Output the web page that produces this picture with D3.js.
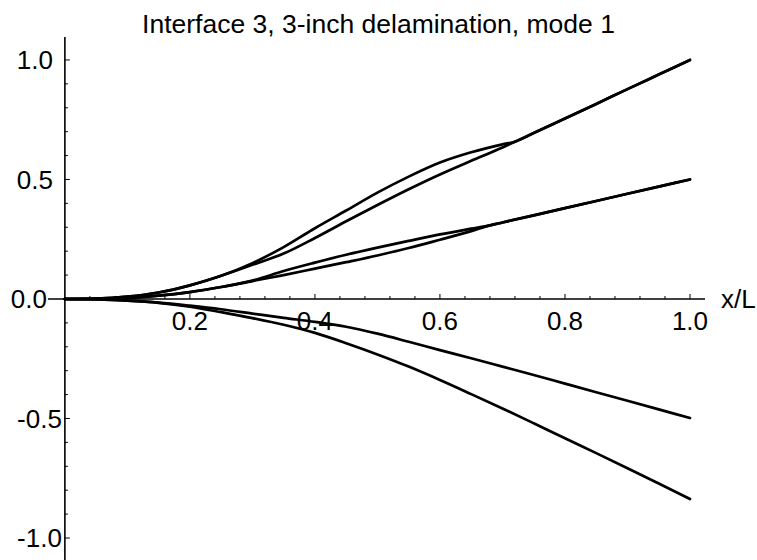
<!DOCTYPE html>
<html>
<head>
<meta charset="utf-8">
<script src="https://cdn.jsdelivr.net/npm/d3@7"></script>
<style>
  html, body { margin: 0; padding: 0; background: #fff; }
  svg text { font-family: "Liberation Sans", Arial, Helvetica, sans-serif; fill: #000; }
</style>
</head>
<body>
<svg id="chart" width="757" height="560"></svg>
<script>
// Mode shape of the delaminated beam (interface 3, 3-inch delamination, mode 1)
const titleText = "Interface 3, 3-inch delamination, mode 1";
const xLabelText = "x/L";

const xTicksMajor = [0.2, 0.4, 0.6, 0.8, 1.0];
const yTicksMajor = [-1.0, -0.5, 0.0, 0.5, 1.0];

// Upper sublaminate pair (meet at the tip value 1.0)
const upperX = [0, 0.05, 0.1, 0.15, 0.2, 0.25, 0.3, 0.35, 0.4, 0.45, 0.5, 0.55, 0.6, 0.65, 0.7, 0.72, 0.75, 0.8, 0.85, 0.9, 0.95, 1.0];
const upperA = [0, 0.002, 0.010, 0.027, 0.057, 0.097, 0.143, 0.190, 0.255, 0.325, 0.393, 0.459, 0.521, 0.578, 0.634, 0.658, 0.694, 0.755, 0.816, 0.878, 0.939, 1.0];
const upperB = [0, 0.002, 0.010, 0.027, 0.057, 0.097, 0.150, 0.217, 0.296, 0.370, 0.445, 0.512, 0.571, 0.614, 0.647, 0.658, 0.694, 0.755, 0.816, 0.878, 0.939, 1.0];

// Middle pair (tip value 0.5)
const middleX = [0, 0.05, 0.1, 0.15, 0.2, 0.25, 0.3, 0.35, 0.4, 0.45, 0.5, 0.55, 0.6, 0.65, 0.68, 0.7, 0.75, 0.8, 0.85, 0.9, 0.95, 1.0];
const middleA = [0, 0.001, 0.005, 0.014, 0.029, 0.050, 0.075, 0.100, 0.127, 0.154, 0.182, 0.213, 0.248, 0.284, 0.308, 0.320, 0.350, 0.380, 0.410, 0.440, 0.470, 0.5];
const middleB = [0, 0.001, 0.005, 0.014, 0.029, 0.050, 0.077, 0.117, 0.152, 0.185, 0.215, 0.243, 0.270, 0.294, 0.308, 0.320, 0.350, 0.380, 0.410, 0.440, 0.470, 0.5];

// Lower curves (tip values -0.5 and -0.84)
const lowerX = [0, 0.05, 0.1, 0.15, 0.2, 0.25, 0.3, 0.35, 0.4, 0.45, 0.5, 0.55, 0.6, 0.65, 0.7, 0.75, 0.8, 0.85, 0.9, 0.95, 1.0];
const lowerC = [0, -0.002, -0.007, -0.015, -0.028, -0.043, -0.061, -0.079, -0.096, -0.116, -0.145, -0.179, -0.214, -0.248, -0.283, -0.318, -0.354, -0.390, -0.426, -0.462, -0.498];
const lowerD = [0, -0.002, -0.007, -0.016, -0.032, -0.055, -0.080, -0.108, -0.142, -0.185, -0.232, -0.283, -0.339, -0.398, -0.458, -0.520, -0.583, -0.645, -0.708, -0.772, -0.837];

const series = [
  { xs: upperX, ys: upperA },
  { xs: upperX, ys: upperB },
  { xs: middleX, ys: middleA },
  { xs: middleX, ys: middleB },
  { xs: lowerX, ys: lowerC },
  { xs: lowerX, ys: lowerD }
];

const svg = d3.select("#chart");

const x = d3.scaleLinear().domain([-0.027, 1.024]).range([48, 705]);
const y = d3.scaleLinear().domain([-1.092, 1.096]).range([560, 37]);

const x0 = x(0), y0 = y(0);
const fmt = d3.format(".1f");

// Title
svg.append("text")
  .attr("x", 378.5).attr("y", 33)
  .attr("text-anchor", "middle")
  .style("font-size", "26.5px")
  .text(titleText);

// Horizontal axis along y = 0
svg.append("line")
  .attr("x1", x.range()[0]).attr("x2", x.range()[1])
  .attr("y1", y0).attr("y2", y0)
  .attr("stroke", "#000").attr("stroke-width", 1.6);

// Vertical axis along x = 0
svg.append("line")
  .attr("x1", x0).attr("x2", x0)
  .attr("y1", y.range()[1]).attr("y2", y.range()[0])
  .attr("stroke", "#000").attr("stroke-width", 1.6);

// x ticks: minor every 0.04, major every 0.2, pointing up
const xMinor = d3.range(1, 26).map(i => i * 0.04);
svg.append("g").selectAll("line").data(xMinor).join("line")
  .attr("x1", d => x(d)).attr("x2", d => x(d))
  .attr("y1", y0).attr("y2", d => {
    const major = xTicksMajor.some(m => Math.abs(m - d) < 1e-6);
    return y0 - (major ? 5 : 3);
  })
  .attr("stroke", "#000").attr("stroke-width", 1);

// y ticks: minor every 0.1, major every 0.5, pointing right
const yMinor = d3.range(-10, 11).map(i => i / 10).filter(d => d !== 0);
svg.append("g").selectAll("line").data(yMinor).join("line")
  .attr("y1", d => y(d)).attr("y2", d => y(d))
  .attr("x1", x0).attr("x2", d => {
    const major = yTicksMajor.some(m => Math.abs(m - d) < 1e-6);
    return x0 + (major ? 5 : 3);
  })
  .attr("stroke", "#000").attr("stroke-width", 1);

// x tick labels
svg.append("g").selectAll("text").data(xTicksMajor).join("text")
  .attr("x", d => x(d))
  .attr("y", y0 + 31)
  .attr("text-anchor", "middle")
  .style("font-size", "26px")
  .text(d => fmt(d));

// y tick labels
svg.append("g").selectAll("text").data(yTicksMajor).join("text")
  .attr("x", d => d < 0 ? x0 - 3 : (d === 0 ? x0 - 18 : x0 - 12))
  .attr("y", d => y(d))
  .attr("dy", "0.36em")
  .attr("text-anchor", "end")
  .style("font-size", "26px")
  .text(d => d < 0 ? "-" + fmt(-d) : fmt(d));

// Axis label
svg.append("text")
  .attr("x", 721).attr("y", y0 + 9)
  .style("font-size", "26px")
  .text(xLabelText);

// Curves
const line = d3.line()
  .x(d => x(d[0]))
  .y(d => y(d[1]))
  .curve(d3.curveMonotoneX);

svg.append("g").selectAll("path").data(series).join("path")
  .attr("d", s => line(s.xs.map((v, i) => [v, s.ys[i]])))
  .attr("fill", "none")
  .attr("stroke", "#000")
  .attr("stroke-width", 2.7)
  .attr("stroke-linejoin", "round")
  .attr("stroke-linecap", "round");
</script>
</body>
</html>
